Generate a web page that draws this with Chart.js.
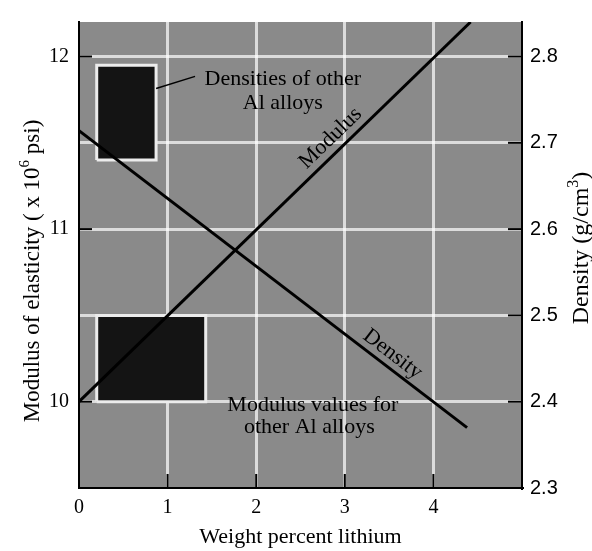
<!DOCTYPE html>
<html>
<head>
<meta charset="utf-8">
<script src="https://cdn.jsdelivr.net/npm/chart.js@4.4.1/dist/chart.umd.min.js"></script>
<style>
  html, body { margin: 0; padding: 0; background: #fff; }
  #wrap { width: 592px; height: 551px; }
</style>
</head>
<body>
<div id="wrap"><canvas id="grafico" width="592" height="551"></canvas></div>
<script>
// tick labels
const lithiumTicks = [0, 1, 2, 3, 4];
const modulusTicks = [10, 11, 12];
const densityTicks = [2.3, 2.4, 2.5, 2.6, 2.7, 2.8];

// lines (x = wt% Li)
const modulusLineX = [0, 4.42];
const modulusLineY = [10.0, 12.2];
const densityLineX = [0, 4.38];
const densityLineY = [2.714, 2.37];

// ranges for other Al alloys
const modulusBoxX = [0.2, 1.43];
const modulusBoxY = [10.0, 10.5];
const densityBoxX = [0.2, 0.87];
const densityBoxY = [2.68, 2.79];

// leader from density box to its label
const leaderX = [0.87, 1.31];
const leaderY = [2.763, 2.777];

const SERIF = "'Liberation Serif', 'Times New Roman', serif";
const SANS = "'Liberation Sans', Arial, sans-serif";

function pts(xs, ys) {
    return xs.map((x, i) => ({ x: x, y: ys[i] }));
}
function box(xs, ys) {
    return [
        { x: xs[0], y: ys[0] }, { x: xs[1], y: ys[0] },
        { x: xs[1], y: ys[1] }, { x: xs[0], y: ys[1] },
        { x: xs[0], y: ys[0] }
    ];
}

// draws text with superscript parts, centred on (x, y), rotated
function drawRich(ctx, parts, x, y, angle, size) {
    ctx.save();
    ctx.translate(x, y);
    ctx.rotate(angle);
    ctx.textBaseline = 'alphabetic';
    ctx.textAlign = 'left';
    let w = 0;
    parts.forEach(p => {
        ctx.font = (p.sup ? Math.round(size * 0.65) : size) + 'px ' + SERIF;
        p.w = ctx.measureText(p.t).width;
        w += p.w;
    });
    let cx = -w / 2;
    parts.forEach(p => {
        ctx.font = (p.sup ? Math.round(size * 0.65) : size) + 'px ' + SERIF;
        ctx.fillText(p.t, cx, size * 0.35 + (p.sup ? -size * 0.42 : 0));
        cx += p.w;
    });
    ctx.restore();
}

const decor = {
    id: 'decor',
    beforeDraw(chart) {
        const { ctx, chartArea: a } = chart;
        ctx.save();
        ctx.fillStyle = '#8a8a8a';
        ctx.fillRect(a.left, a.top, a.right - a.left, a.bottom - a.top);
        ctx.restore();
    },
    afterDatasetsDraw(chart) {
        const { ctx, chartArea: a, scales } = chart;
        const sx = scales.x, sy = scales.y, sy1 = scales.y1;
        ctx.save();
        ctx.strokeStyle = '#000';
        ctx.lineWidth = 2;
        // inward tick marks
        lithiumTicks.forEach(v => {
            const px = sx.getPixelForValue(v);
            ctx.beginPath(); ctx.moveTo(px, a.bottom); ctx.lineTo(px, a.bottom - 14); ctx.stroke();
        });
        modulusTicks.forEach(v => {
            const py = sy.getPixelForValue(v);
            ctx.beginPath(); ctx.moveTo(a.left, py); ctx.lineTo(a.left + 13, py); ctx.stroke();
        });
        densityTicks.forEach(v => {
            const py = sy1.getPixelForValue(v);
            ctx.beginPath(); ctx.moveTo(a.right, py); ctx.lineTo(a.right - 14, py); ctx.stroke();
        });

        // box labels
        ctx.fillStyle = '#000';
        ctx.font = '22px ' + SERIF;
        ctx.textAlign = 'center';
        ctx.textBaseline = 'middle';
        ctx.fillText('Densities of other', sx.getPixelForValue(2.3), sy1.getPixelForValue(2.774));
        ctx.fillText('Al alloys', sx.getPixelForValue(2.3), sy1.getPixelForValue(2.746));
        ctx.fillText('Modulus values for', sx.getPixelForValue(2.64), sy.getPixelForValue(9.98));
        ctx.fillText('other Al alloys', sx.getPixelForValue(2.6), sy.getPixelForValue(9.855));

        // line labels, rotated along their lines
        function lineLabel(text, xs, ys, scaleY, at, off) {
            const x0 = sx.getPixelForValue(xs[0]), y0 = scaleY.getPixelForValue(ys[0]);
            const x1 = sx.getPixelForValue(xs[1]), y1 = scaleY.getPixelForValue(ys[1]);
            const ang = Math.atan2(y1 - y0, x1 - x0);
            const t = (at - xs[0]) / (xs[1] - xs[0]);
            const px = x0 + (x1 - x0) * t + Math.sin(ang) * off;
            const py = y0 + (y1 - y0) * t - Math.cos(ang) * off;
            ctx.save();
            ctx.translate(px, py);
            ctx.rotate(ang);
            ctx.fillText(text, 0, 0);
            ctx.restore();
        }
        lineLabel('Modulus', modulusLineX, modulusLineY, sy, 2.95, 14);
        lineLabel('Density', densityLineX, densityLineY, sy1, 3.45, 13);

        // axis titles
        drawRich(ctx, [{ t: 'Modulus of elasticity ( x 10' }, { t: '6', sup: true }, { t: ' psi)' }],
            31, 271, -Math.PI / 2, 23);
        drawRich(ctx, [{ t: 'Density (g/cm' }, { t: '3', sup: true }, { t: ')' }],
            580, 248, -Math.PI / 2, 24);
        drawRich(ctx, [{ t: 'Weight percent lithium' }], (a.left + a.right) / 2, 535, 0, 22);
        ctx.restore();
    }
};

const ctx = document.getElementById('grafico').getContext('2d');

const chart = new Chart(ctx, {
    type: 'scatter',
    data: {
        datasets: [
            {
                label: 'Modulus',
                data: pts(modulusLineX, modulusLineY),
                yAxisID: 'y',
                showLine: true,
                borderColor: '#000',
                borderWidth: 3,
                pointRadius: 0
            },
            {
                label: 'Density',
                data: pts(densityLineX, densityLineY),
                yAxisID: 'y1',
                showLine: true,
                borderColor: '#000',
                borderWidth: 3,
                pointRadius: 0
            },
            {
                label: 'leader',
                data: pts(leaderX, leaderY),
                yAxisID: 'y1',
                showLine: true,
                borderColor: '#000',
                borderWidth: 1.5,
                pointRadius: 0
            },
            {
                label: 'Modulus values for other Al alloys',
                data: box(modulusBoxX, modulusBoxY),
                yAxisID: 'y',
                showLine: true,
                fill: 'shape',
                backgroundColor: '#141414',
                borderColor: '#ececec',
                borderWidth: 3,
                pointRadius: 0,
                tension: 0
            },
            {
                label: 'Densities of other Al alloys',
                data: box(densityBoxX, densityBoxY),
                yAxisID: 'y1',
                showLine: true,
                fill: 'shape',
                backgroundColor: '#141414',
                borderColor: '#ececec',
                borderWidth: 3,
                pointRadius: 0,
                tension: 0
            }
        ]
    },
    options: {
        responsive: false,
        animation: false,
        layout: { padding: { top: 16, left: 0, right: 0, bottom: 0 } },
        plugins: {
            legend: { display: false },
            tooltip: { enabled: false }
        },
        scales: {
            x: {
                type: 'linear',
                position: 'bottom',
                min: 0,
                max: 5,
                afterBuildTicks: s => { s.ticks = lithiumTicks.map(v => ({ value: v })); },
                afterFit: s => { s.height = 63; },
                grid: {
                    drawTicks: false,
                    color: c => (c.tick && c.tick.value > 0 ? 'rgba(255,255,255,0.7)' : 'rgba(0,0,0,0)'),
                    lineWidth: 3
                },
                border: { display: true, color: '#000', width: 2 },
                ticks: {
                    padding: 8,
                    color: '#000',
                    font: { family: SERIF, size: 20 }
                }
            },
            y: {
                type: 'linear',
                position: 'left',
                min: 9.5,
                max: 12.2,
                afterBuildTicks: s => { s.ticks = modulusTicks.map(v => ({ value: v })); },
                afterFit: s => { s.width = 79; },
                grid: { display: false, drawTicks: false },
                border: { display: true, color: '#000', width: 2 },
                ticks: {
                    padding: 10,
                    color: '#000',
                    font: { family: SERIF, size: 20 }
                }
            },
            y1: {
                type: 'linear',
                position: 'right',
                min: 2.3,
                max: 2.84,
                afterBuildTicks: s => { s.ticks = densityTicks.map(v => ({ value: v })); },
                afterFit: s => { s.width = 70; },
                grid: {
                    drawTicks: false,
                    color: c => (c.tick && c.tick.value > 2.31 ? 'rgba(255,255,255,0.7)' : 'rgba(0,0,0,0)'),
                    lineWidth: 3
                },
                border: { display: true, color: '#000', width: 2 },
                ticks: {
                    padding: 8,
                    color: '#000',
                    font: { family: SANS, size: 20 },
                    callback: v => v.toFixed(1)
                }
            }
        }
    },
    plugins: [decor]
});
</script>
</body>
</html>
